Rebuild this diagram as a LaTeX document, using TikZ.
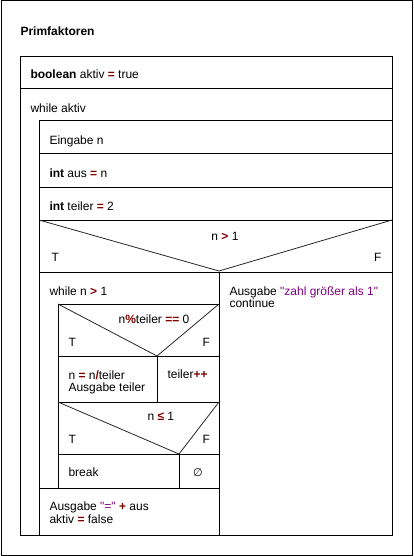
\documentclass[tikz,border=0pt]{standalone}
\usepackage{fontspec}
\setmainfont{Liberation Sans}
\newfontfamily\symfont{DejaVu Sans}
\definecolor{opred}{RGB}{128,0,0}
\definecolor{strviolet}{RGB}{128,0,128}
\newcommand{\opr}[1]{\textcolor{opred}{\textbf{#1}}}
\newcommand{\strlit}[1]{\textcolor{strviolet}{\textquotedbl#1\textquotedbl}}

\begin{document}
\begin{tikzpicture}[x=1pt,y=-1pt,line width=1pt,
  every node/.style={font=\fontsize{12}{13.5}\selectfont,inner sep=0pt},
  txt/.style={anchor=base west},
  cond/.style={anchor=base},
  diag/.style={line width=0.8pt,black!85}]
  \useasboundingbox (0,0) rectangle (413,556);
  \draw (1,1) rectangle (412,555);
  \node[txt,font=\fontsize{12}{13.5}\selectfont\bfseries] (title) at (20,36) {Primfaktoren};
  % outer program block
  \draw (20,57) rectangle (392,535);
  \draw (20,89) -- (392,89);
  \node[txt] (init) at (30,79) {\textbf{boolean} aktiv \opr{=} true};
  \node[txt] (loopA) at (30,113) {while aktiv};
  % body of while aktiv
  \draw (39,121) -- (392,121);
  \draw (39,121) -- (39,535);
  \draw (39,154) -- (392,154);
  \draw (39,187) -- (392,187);
  \draw (39,220) -- (392,220);
  \node[txt] (input) at (49,144.3) {Eingabe n};
  \node[txt] (aus) at (49,177.3) {\textbf{int} aus \opr{=} n};
  \node[txt] (teiler) at (49,210.7) {\textbf{int} teiler \opr{=} 2};
  % if n > 1
  \draw[diag] (39,220) -- (219,271) -- (392,220);
  \node[cond] (ifA) at (225,240.7) {n \opr{>} 1};
  \node[txt] (tA) at (51,261.7) {T};
  \node[anchor=base east] (fA) at (382,261.7) {F};
  \draw (39,272) -- (392,272);
  \draw (219,272) -- (219,535);
  % false branch
  \node[txt] (err) at (229,295) {Ausgabe \strlit{zahl größer als 1}};
  \node[txt] (cont) at (229,307.5) {continue};
  % true branch: while n > 1
  \node[txt] (loopB) at (49,295) {while n \opr{>} 1};
  \draw (58,304) -- (219,304);
  \draw (58,304) -- (58,488);
  \draw (39,488) -- (219,488);
  % if n%teiler == 0
  \draw[diag] (58,304) -- (157,356) -- (219,304);
  \node[cond] (ifB) at (154,323.3) {n\opr{\%}teiler \opr{==} 0};
  \node[txt] (tB) at (68,346) {T};
  \node[txt] (fB) at (202,346) {F};
  \draw (58,356) -- (219,356);
  \draw (157,356) -- (157,402);
  \draw (58,402) -- (219,402);
  \node[txt] (divide) at (68,379) {n \opr{=} n\opr{/}teiler};
  \node[txt] (show) at (68,391.7) {Ausgabe teiler};
  \node[txt] (next) at (167,378) {teiler\opr{++}};
  % if n <= 1
  \draw[diag] (58,402) -- (179,454) -- (219,402);
  \node[txt] (ifC) at (147,420.7) {n \opr{≤} 1};
  \node[txt] (tC) at (68,443.3) {T};
  \node[txt] (fC) at (202,443.3) {F};
  \draw (58,454) -- (219,454);
  \draw (179,454) -- (179,488);
  \node[txt] (stop) at (68,476.7) {break};
  \node (empty) at (198,472.5) {\symfont\fontsize{11}{11}\selectfont ∅};
  % after loop
  \node[txt] (result) at (49,510.7) {Ausgabe \strlit{=} \opr{+} aus};
  \node[txt] (reset) at (49,523.3) {aktiv \opr{=} false};
\end{tikzpicture}
\end{document}
